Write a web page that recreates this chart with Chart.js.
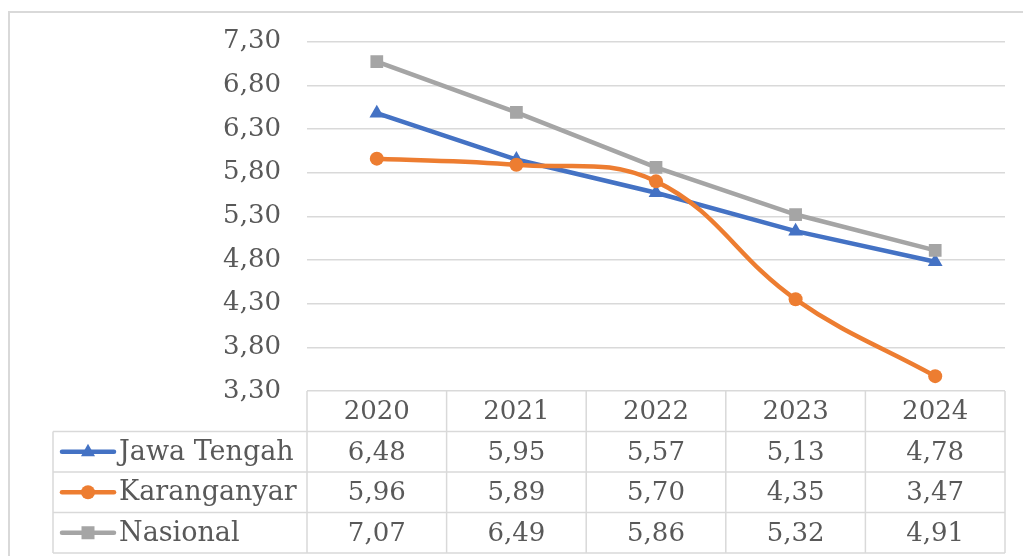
<!DOCTYPE html>
<html>
<head>
<meta charset="utf-8">
<script src="https://cdn.jsdelivr.net/npm/chart.js@4.4.1/dist/chart.umd.min.js"></script>
<style>
  html, body { margin: 0; padding: 0; background: #ffffff; }
  #wrap { width: 1023px; height: 556px; }
</style>
</head>
<body>
<div id="wrap"><canvas id="tptChart" width="1023" height="556"></canvas></div>
<script>
// data
const years = ['2020', '2021', '2022', '2023', '2024'];
const jawaTengah = [6.48, 5.95, 5.57, 5.13, 4.78];
const karanganyar = [5.96, 5.89, 5.70, 4.35, 3.47];
const nasional = [7.07, 6.49, 5.86, 5.32, 4.91];
const seriesNames = ['Jawa Tengah', 'Karanganyar', 'Nasional'];
const yMin = 3.3, yMax = 7.3, yStep = 0.5;

const textColor = '#595959';
const lineColor = '#d9d9d9';
const fontFamily = '"DejaVu Serif", serif';
const rowH = 40.5;

function fmt(v) {
  return v.toFixed(2).replace('.', ',');
}

// small marker used in the table legend keys
function drawMarker(ctx, style, x, y, color) {
  ctx.fillStyle = color;
  ctx.beginPath();
  if (style === 'triangle') {
    ctx.moveTo(x, y - 8);
    ctx.lineTo(x + 7, y + 4.5);
    ctx.lineTo(x - 7, y + 4.5);
    ctx.closePath();
    ctx.fill();
  } else if (style === 'circle') {
    ctx.arc(x, y, 7, 0, Math.PI * 2);
    ctx.fill();
  } else {
    ctx.fillRect(x - 6.5, y - 6.5, 13, 13);
  }
}

// outer frame
const framePlugin = {
  id: 'frame',
  beforeDraw(chart) {
    const ctx = chart.ctx;
    ctx.save();
    ctx.fillStyle = '#ffffff';
    ctx.fillRect(0, 0, chart.width, chart.height);
    ctx.strokeStyle = lineColor;
    ctx.lineWidth = 2;
    ctx.strokeRect(9, 12, 1100, 1000);
    ctx.restore();
  }
};

// data table under the plot
const tablePlugin = {
  id: 'dataTable',
  afterDraw(chart) {
    const ctx = chart.ctx;
    const xs = chart.scales.x;
    const area = chart.chartArea;
    const top = area.bottom;
    const left = 53;
    const colW = (area.right - area.left) / years.length;
    const bottom = top + rowH * 4;
    const rows = [jawaTengah, karanganyar, nasional];

    ctx.save();
    ctx.strokeStyle = lineColor;
    ctx.lineWidth = 1.5;

    // horizontal lines
    for (let r = 1; r <= 4; r++) {
      const y = top + rowH * r;
      ctx.beginPath();
      ctx.moveTo(left, y);
      ctx.lineTo(area.right, y);
      ctx.stroke();
    }
    // vertical lines
    for (let c = 0; c <= years.length; c++) {
      const x = area.left + colW * c;
      ctx.beginPath();
      ctx.moveTo(x, top);
      ctx.lineTo(x, bottom);
      ctx.stroke();
    }
    ctx.beginPath();
    ctx.moveTo(left, top + rowH);
    ctx.lineTo(left, bottom);
    ctx.stroke();

    ctx.font = '26px ' + fontFamily;
    ctx.fillStyle = textColor;
    ctx.textAlign = 'center';
    ctx.textBaseline = 'middle';

    years.forEach((yr, i) => {
      const cx = xs.getPixelForValue(i);
      ctx.fillText(yr, cx, top + rowH / 2 + 1);
      rows.forEach((vals, r) => {
        ctx.fillText(fmt(vals[i]), cx, top + rowH * (r + 1.5) + 1);
      });
    });

    // legend keys
    chart.data.datasets.forEach((ds, r) => {
      const cy = top + rowH * (r + 1.5);
      ctx.strokeStyle = ds.borderColor;
      ctx.lineWidth = 4.5;
      ctx.lineCap = 'round';
      ctx.beginPath();
      ctx.moveTo(62, cy);
      ctx.lineTo(114, cy);
      ctx.stroke();
      drawMarker(ctx, ds.pointStyle, 88, cy, ds.borderColor);
      ctx.fillStyle = textColor;
      ctx.textAlign = 'left';
      ctx.font = '27px ' + fontFamily;
      ctx.fillText(seriesNames[r], 119, cy + 1);
    });
    ctx.restore();
  }
};

const ctx = document.getElementById('tptChart');

new Chart(ctx, {
  type: 'line',
  data: {
    labels: years,
    datasets: [
      {
        label: seriesNames[0],
        data: jawaTengah,
        borderColor: '#4472c4',
        backgroundColor: '#4472c4',
        borderWidth: 4.5,
        pointStyle: 'triangle',
        pointRadius: 8.5,
        pointBorderWidth: 0,
        tension: 0,
        order: 2
      },
      {
        label: seriesNames[1],
        data: karanganyar,
        borderColor: '#ed7d31',
        backgroundColor: '#ed7d31',
        borderWidth: 4.5,
        pointStyle: 'circle',
        pointRadius: 7,
        pointBorderWidth: 0,
        tension: 0.4,
        order: 0
      },
      {
        label: seriesNames[2],
        data: nasional,
        borderColor: '#a5a5a5',
        backgroundColor: '#a5a5a5',
        borderWidth: 4.5,
        pointStyle: 'rect',
        pointRadius: 9,
        pointBorderWidth: 0,
        tension: 0,
        order: 1
      }
    ]
  },
  options: {
    responsive: false,
    animation: false,
    layout: {
      padding: { top: 41, bottom: 165, left: 0, right: 18 }
    },
    plugins: {
      legend: { display: false },
      tooltip: { enabled: false }
    },
    scales: {
      x: {
        offset: true,
        grid: { display: false },
        border: { display: false },
        ticks: { display: false },
        afterFit(scale) { scale.height = 0; }
      },
      y: {
        min: yMin,
        max: yMax,
        border: { display: false },
        grid: { color: lineColor, lineWidth: 1.5, drawTicks: false },
        ticks: {
          stepSize: yStep,
          padding: 26,
          color: textColor,
          font: { family: fontFamily, size: 26 },
          callback: (v) => fmt(v)
        },
        afterFit(scale) { scale.width = 307; }
      }
    }
  },
  plugins: [framePlugin, tablePlugin]
});
</script>
</body>
</html>
